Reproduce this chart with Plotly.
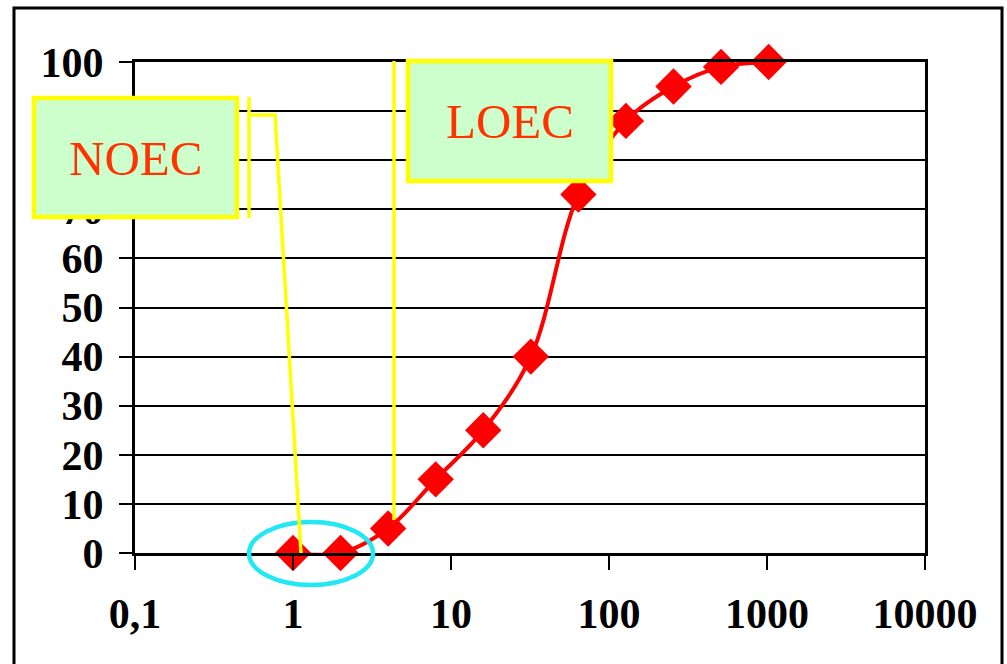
import plotly.graph_objects as go

# ---- data ----
concentrations = [1, 2, 4, 8, 16, 32, 64, 128, 256, 512, 1024]
effect_pct = [0, 0, 5, 15, 25, 40, 73, 88, 95, 99, 100]
x_tick_vals = [0.1, 1, 10, 100, 1000, 10000]
x_tick_text = ["0,1", "1", "10", "100", "1000", "10000"]
y_tick_vals = [0, 10, 20, 30, 40, 50, 60, 70, 80, 90, 100]
labels = ["NOEC", "LOEC"]

W, H = 1007, 664
L, R, T, B = 135, 925, 62, 553


def px(x):
    return (x - L) / (R - L)


def py(y):
    return (B - y) / (B - T)


fig = go.Figure()
fig.add_trace(go.Scatter(
    x=concentrations, y=effect_pct, mode="lines+markers",
    line=dict(color="#FF0000", width=4, shape="spline", smoothing=1),
    marker=dict(symbol="diamond", size=28, color="#FF0000"),
    showlegend=False, cliponaxis=False,
))

shapes = []
# outer frame
shapes.append(dict(type="rect", xref="paper", yref="paper",
                   x0=px(14), x1=px(1002), y0=py(700), y1=py(8),
                   line=dict(color="black", width=3), fillcolor="rgba(0,0,0,0)", layer="below"))
# cyan ellipse around NOEC points
shapes.append(dict(type="circle", xref="paper", yref="paper",
                   x0=px(249), x1=px(373), y0=py(585), y1=py(522),
                   line=dict(color="#22E8F4", width=4.5), layer="above"))
# NOEC callout
shapes.append(dict(type="line", xref="paper", yref="paper",
                   x0=px(249), x1=px(249), y0=py(97), y1=py(218),
                   line=dict(color="#FFFF00", width=3.5), layer="above"))
shapes.append(dict(type="path", xref="paper", yref="paper",
                   path=f"M {px(250)},{py(115)} L {px(275)},{py(115)} L {px(301)},{py(553)}",
                   line=dict(color="#FFFF00", width=3.5), layer="above"))
# LOEC callout
shapes.append(dict(type="line", xref="paper", yref="paper",
                   x0=px(394), x1=px(394), y0=py(61), y1=py(520),
                   line=dict(color="#FFFF00", width=3.5), layer="above"))
# boxes
shapes.append(dict(type="rect", xref="paper", yref="paper",
                   x0=px(34), x1=px(237), y0=py(217), y1=py(98),
                   line=dict(color="#FFFF00", width=4.5), fillcolor="#CCFFCC", layer="above"))
shapes.append(dict(type="rect", xref="paper", yref="paper",
                   x0=px(408), x1=px(611), y0=py(181), y1=py(61),
                   line=dict(color="#FFFF00", width=4.5), fillcolor="#CCFFCC", layer="above"))

annotations = [
    dict(text=labels[0], xref="paper", yref="paper", x=px(135.5), y=py(158),
         showarrow=False, xanchor="center", yanchor="middle",
         font=dict(family="Liberation Serif", size=49, color="#FF3300")),
    dict(text=labels[1], xref="paper", yref="paper", x=px(509.5), y=py(121),
         showarrow=False, xanchor="center", yanchor="middle",
         font=dict(family="Liberation Serif", size=49, color="#FF3300")),
]

fig.update_layout(
    width=W, height=H,
    margin=dict(l=L, r=W - R, t=T, b=H - B, pad=0),
    paper_bgcolor="white", plot_bgcolor="white",
    shapes=shapes, annotations=annotations,
    xaxis=dict(type="log", range=[-1, 4], tickvals=x_tick_vals, ticktext=x_tick_text,
               ticks="outside", ticklen=14, tickwidth=2, tickcolor="black",
               showgrid=False, zeroline=False,
               showline=True, linecolor="black", linewidth=3, mirror=True,
               ticklabelstandoff=8,
               tickfont=dict(family="Liberation Serif", size=42, color="black", weight="bold")),
    yaxis=dict(range=[0, 100], tickvals=y_tick_vals,
               ticks="outside", ticklen=13, tickwidth=2, tickcolor="black",
               showgrid=True, gridcolor="black", gridwidth=1.5, zeroline=False,
               showline=True, linecolor="black", linewidth=3, mirror=True,
               ticklabelstandoff=7,
               tickfont=dict(family="Liberation Serif", size=42, color="black", weight="bold")),
)

fig.write_html("out.html", config={"displayModeBar": False},
               post_script="document.body.style.margin='0';document.body.style.overflow='hidden';")
